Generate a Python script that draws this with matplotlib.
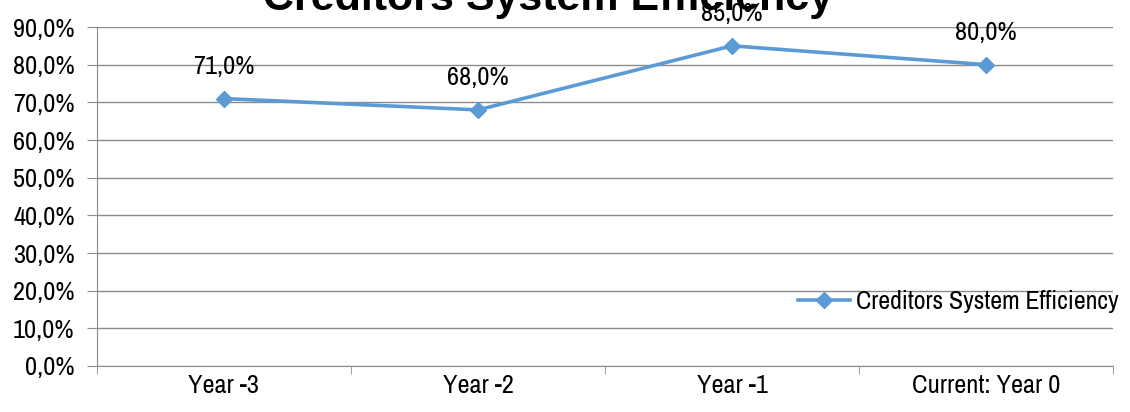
import matplotlib.pyplot as plt
from matplotlib.ticker import FuncFormatter

categories = ["Year -3", "Year -2", "Year -1", "Current: Year 0"]
efficiency = [71.0, 68.0, 85.0, 80.0]
series_name = "Creditors System Efficiency"
y_ticks = [0, 10, 20, 30, 40, 50, 60, 70, 80, 90]

plt.rcParams["font.family"] = ["Archivo Narrow", "DejaVu Sans"]

blue = "#5b9bd5"
grid = "#8c8c8c"
fs = 19

fig = plt.figure(figsize=(11.3, 4.12), dpi=100)
ax = fig.add_axes([97 / 1130, 1 - 366 / 412, (1113 - 97) / 1130, (366 - 27) / 412])

x = list(range(len(categories)))
ax.plot(x, efficiency, color=blue, lw=2.6, marker="D", ms=8, label=series_name, zorder=3)
for xi, v in zip(x, efficiency):
    ax.annotate(f"{v:.1f}%".replace(".", ","), (xi, v), xytext=(0, 15),
                textcoords="offset points", ha="center", va="bottom", fontsize=fs)

ax.set_xlim(-0.5, len(categories) - 0.5)
ax.set_ylim(0, 90)
ax.set_yticks(y_ticks)
ax.yaxis.set_major_formatter(FuncFormatter(lambda v, p: f"{v:.1f}%".replace(".", ",")))
ax.set_xticks(x)
ax.set_xticklabels(categories)
ax.set_xticks([i - 0.5 for i in range(len(categories) + 1)], minor=True)
ax.tick_params(axis="x", which="major", length=0, pad=6, labelsize=fs)
ax.tick_params(axis="x", which="minor", length=6, color=grid, direction="out")
ax.tick_params(axis="y", length=7, color=grid, labelsize=fs, pad=9)
ax.yaxis.grid(True, color=grid, lw=1)
ax.set_axisbelow(True)
for s in ["top", "right"]:
    ax.spines[s].set_visible(False)
ax.spines["left"].set_color(grid)
ax.spines["bottom"].set_color(grid)

ax.legend(loc="center left", bbox_to_anchor=(0.68, 0.19), frameon=False, fontsize=18.6,
          handlelength=2.0, handletextpad=0.25, borderaxespad=0)

fig.text(0.485, 1 - 10 / 412, series_name, ha="center", va="baseline",
         fontsize=31, fontweight="bold", family=["Liberation Sans", "DejaVu Sans"])

fig.savefig("out.png", dpi=100)
